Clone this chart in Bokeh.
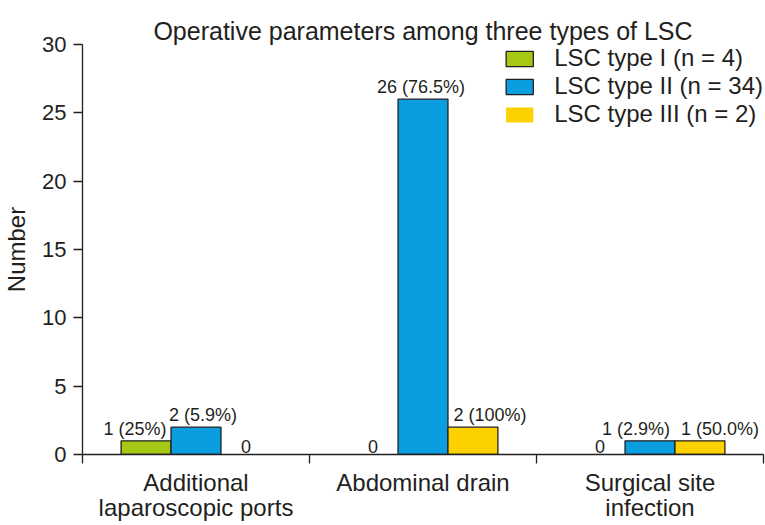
from bokeh.plotting import figure
from bokeh.models import ColumnDataSource, Range1d, FixedTicker, Title
from bokeh.transform import dodge
from bokeh.core.properties import value
from bokeh.embed import file_html
from bokeh.resources import INLINE

# ---- data ----
categories = ["Additional\nlaparoscopic ports", "Abdominal drain", "Surgical site\ninfection"]
series_names = ["LSC type I (n = 4)", "LSC type II (n = 34)", "LSC type III (n = 2)"]
type1 = [1, 0, 0]
type2 = [2, 26, 1]
type3 = [0, 2, 1]
labels1 = ["1 (25%)", "0", "0"]
labels2 = ["2 (5.9%)", "26 (76.5%)", "1 (2.9%)"]
labels3 = ["0", "2 (100%)", "1 (50.0%)"]
y_ticks = [0, 5, 10, 15, 20, 25, 30]
title_text = "Operative parameters among three types of LSC"

# ---- style ----
FONT = "Liberation Sans"
INK = "#231f20"
colors = ["#a4c814", "#0a9ee0", "#fdd000"]
label_nudge = [[-11, 0, 0], [7, -2, -14], [0, 17, 20]]  # px shifts of value labels
BAR_W = 0.22
offsets = [-BAR_W, 0.0, BAR_W]

centers = [i + 0.5 for i in range(len(categories))]
values = [type1, type2, type3]
labels = [labels1, labels2, labels3]

p = figure(width=765, height=525, x_range=Range1d(0, 3), y_range=Range1d(0, 30),
           output_backend="svg", toolbar_location=None,
           min_border_left=82, min_border_right=2, min_border_top=44, min_border_bottom=71)
p.grid.visible = False
p.outline_line_color = None
p.background_fill_color = "white"

for k in range(3):
    src = ColumnDataSource(dict(x=centers, y=values[k], label=labels[k], dx=label_nudge[k],
                                la=[1.0 if v > 0 else 0.0 for v in values[k]]))
    p.vbar(x=dodge("x", offsets[k]), top="y", width=BAR_W, source=src,
           fill_color=colors[k], line_color=INK, line_width=1.3, line_alpha="la",
           legend_label=series_names[k])
    p.text(x=dodge("x", offsets[k]), y="y", text="label", source=src,
           x_offset="dx", y_offset=-2,
           text_align="center", text_baseline="bottom",
           text_font=value(FONT), text_font_size="18px", text_color=INK)

# invisible spacer (closest to the frame) so the real title sits higher
p.title.text = " "
p.title.text_font_size = "12px"
p.title.text_alpha = 0
p.title.standoff = 3

# real title, outer panel
main_title = Title(text=title_text, align="center", text_font=FONT,
                   text_font_size="25px", text_font_style="normal",
                   text_color=INK, standoff=0)
p.add_layout(main_title, "above")

# x axis
xa = p.xaxis[0]
xa.ticker = FixedTicker(ticks=centers, minor_ticks=[0, 1, 2, 3])
xa.major_label_overrides = {c: categories[i] for i, c in enumerate(centers)}
xa.major_tick_line_color = None
xa.major_tick_out = 0
xa.major_tick_in = 0
xa.minor_tick_out = 9
xa.minor_tick_in = 0
xa.minor_tick_line_color = INK
xa.minor_tick_line_width = 1.3
xa.axis_line_color = INK
xa.axis_line_width = 1.3
xa.major_label_text_font = FONT
xa.major_label_text_font_size = "24px"
xa.major_label_text_line_height = 0.95
xa.major_label_text_color = INK
xa.major_label_standoff = 5

# y axis
ya = p.yaxis[0]
ya.ticker = FixedTicker(ticks=y_ticks)
ya.major_tick_out = 9
ya.major_tick_in = 0
ya.minor_tick_line_color = None
ya.major_tick_line_color = INK
ya.major_tick_line_width = 1.3
ya.axis_line_color = INK
ya.axis_line_width = 1.3
ya.major_label_text_font = FONT
ya.major_label_text_font_size = "22px"
ya.major_label_text_color = INK
ya.major_label_standoff = 7
ya.axis_label = "Number"
ya.axis_label_text_font = FONT
ya.axis_label_text_font_size = "24px"
ya.axis_label_text_font_style = "normal"
ya.axis_label_text_color = INK
ya.axis_label_standoff = 9

# legend
lg = p.legend[0]
lg.location = "top_right"
lg.border_line_color = None
lg.background_fill_alpha = 0
lg.padding = 0
lg.margin = 0
lg.glyph_width = 34
lg.glyph_height = 19
lg.label_standoff = 18
lg.spacing = 0
lg.label_height = 19
lg.label_text_font = FONT
lg.label_text_font_size = "24px"
lg.label_text_color = INK

open("out.html", "w").write(file_html(p, INLINE))
